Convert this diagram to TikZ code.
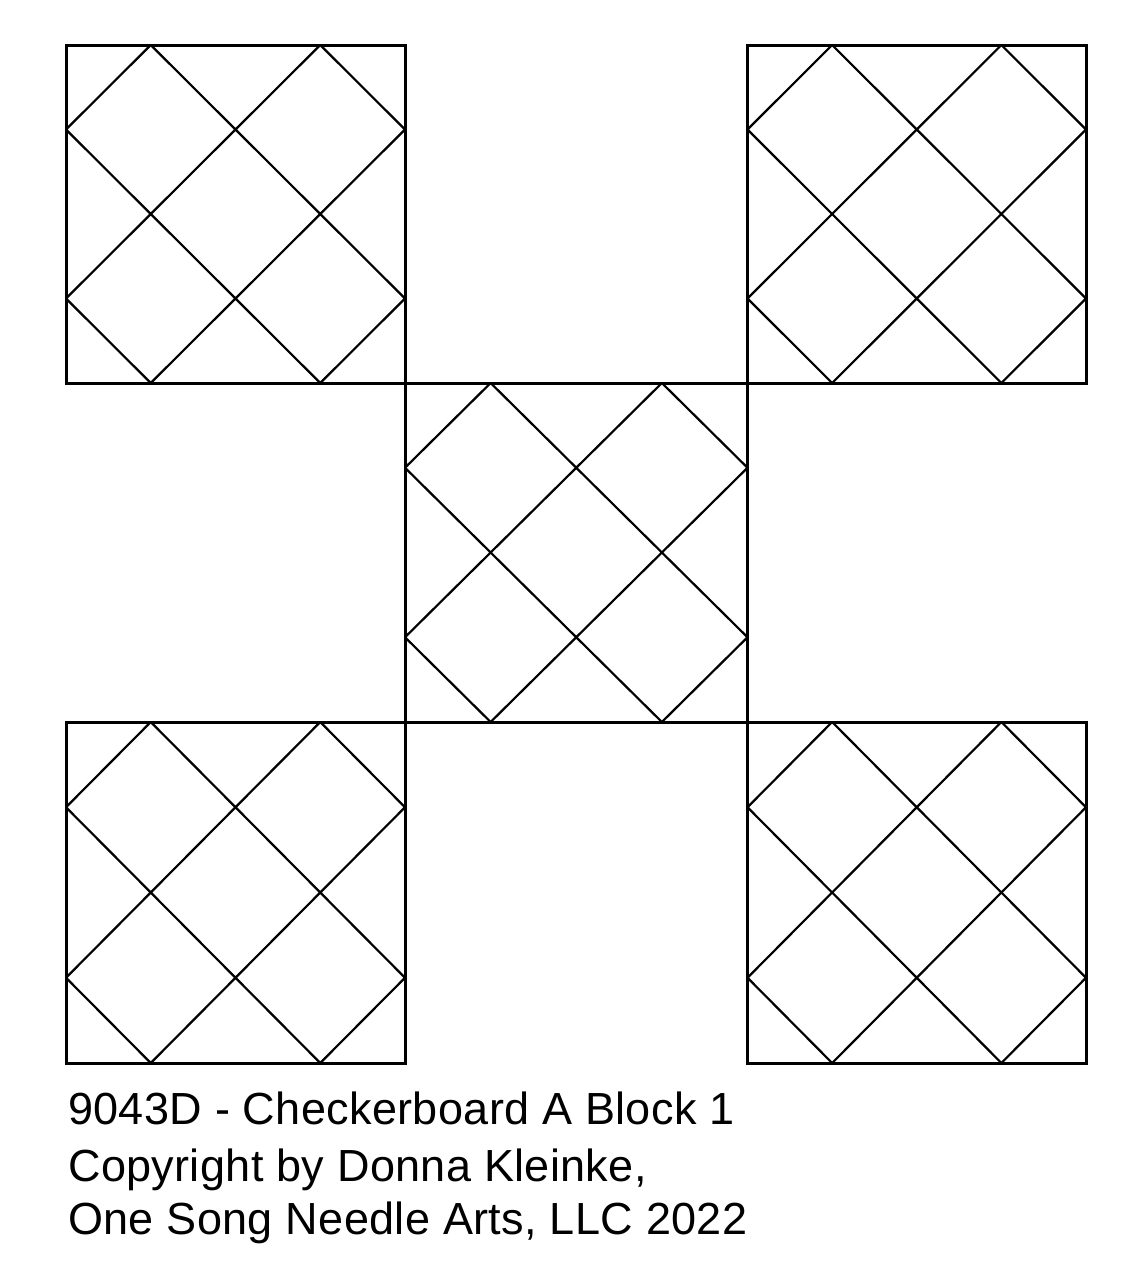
\documentclass[tikz,border=0pt]{standalone}
\usepackage{fontspec}
\setmainfont{Liberation Sans}
\newfontfamily\captionfont[LetterSpace=0.8]{Liberation Sans}
\tikzset{
  frame/.style={draw=black,line width=3pt},
  diag/.style={draw=black,line width=2.2pt},
  caption/.style={anchor=base west,inner sep=0pt,font=\captionfont\fontsize{45}{54}\selectfont}
}
\newcommand\checkerblock[4]{%
  \begin{scope}[shift={(#1,#2)},xscale=#3/4,yscale=#4/4]
    \draw[diag] (1,0)--(0,1) (3,0)--(0,3) (4,1)--(1,4) (4,3)--(3,4)
                (1,0)--(4,3) (3,0)--(4,1) (0,1)--(3,4) (0,3)--(1,4);
    \draw[frame] (0,0) rectangle (4,4);
  \end{scope}}
\begin{document}
\begin{tikzpicture}[x=1pt,y=-1pt]
  \useasboundingbox[fill=white] (0,0) rectangle (1145,1280);
  \checkerblock{66}{45}{339}{338}
  \checkerblock{747.5}{45}{338.5}{338}
  \checkerblock{405}{383}{342.5}{339}
  \checkerblock{66}{722}{339}{341}
  \checkerblock{747.5}{722}{338.5}{341}
  \node[caption] (l1) at (68,1124) {9043D - Checkerboard A Block 1};
  \node[caption] (l2) at (68,1181) {Copyright by Donna Kleinke,};
  \node[caption] (l3) at (68,1234) {One Song Needle Arts, LLC 2022};
\end{tikzpicture}
\end{document}
